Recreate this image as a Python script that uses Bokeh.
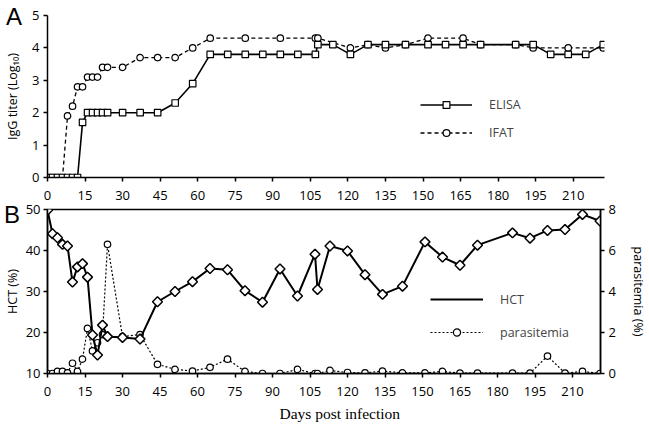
import numpy as np
from bokeh.plotting import figure
from bokeh.models import Range1d, LinearAxis, FixedTicker, Legend, LegendItem, Title, Div
from bokeh.layouts import column
from bokeh.embed import file_html
from bokeh.resources import INLINE

# ---------------- data: panel A (IgG titer, log10) ----------------
elisa_days = [0, 2, 4, 6, 8, 10, 12, 14, 16, 18, 20, 22, 24, 30, 37, 44, 51, 58, 65, 72, 79, 86,
              93, 100, 107, 108, 114, 121, 128, 135, 143, 152, 159, 166, 173, 187, 194, 201, 208,
              215, 222]
elisa_titer = [0, 0, 0, 0, 0, 0, 0, 1.7, 2.0, 2.0, 2.0, 2.0, 2.0, 2.0, 2.0, 2.0, 2.3, 2.9, 3.8, 3.8,
               3.8, 3.8, 3.8, 3.8, 3.8, 4.1, 4.1, 3.8, 4.1, 4.1, 4.1, 4.1, 4.1, 4.1, 4.1, 4.1, 4.1,
               3.8, 3.8, 3.8, 4.1]
ifat_days = [0, 2, 4, 6, 8, 10, 12, 14, 16, 18, 20, 22, 24, 30, 37, 44, 51, 58, 65, 79, 93, 107,
             108, 121, 128, 135, 143, 152, 166, 173, 187, 194, 208, 222]
ifat_titer = [0, 0, 0, 0, 1.9, 2.2, 2.8, 2.8, 3.1, 3.1, 3.1, 3.4, 3.4, 3.4, 3.7, 3.7, 3.7, 4.0, 4.3,
              4.3, 4.3, 4.3, 4.3, 4.0, 4.1, 4.0, 4.1, 4.3, 4.3, 4.1, 4.1, 4.0, 4.0, 4.0]

# ---------------- data: panel B (HCT %, parasitemia %) ----------------
hct_days = [0, 2, 4, 6, 8, 10, 12, 14, 16, 18, 20, 22, 24, 30, 37, 44, 51, 58, 65, 72, 79, 86, 93,
            100, 107, 108, 113, 120, 127, 134, 142, 151, 158, 165, 172, 186, 193, 200, 207, 214, 221]
hct_values = [49.8, 44.1, 43.1, 41.5, 41.1, 32.3, 36.0, 36.8, 33.5, 19.4, 14.5, 21.8, 19.0, 18.8,
              18.4, 27.5, 30.0, 32.4, 35.6, 35.3, 30.2, 27.4, 35.5, 28.9, 39.1, 30.5, 41.1, 39.9,
              34.1, 29.3, 31.3, 42.1, 38.4, 36.4, 41.3, 44.3, 43.0, 44.9, 45.1, 48.8, 47.2]
para_days = hct_days
para_values = [0.0, 0.0, 0.1, 0.1, 0.03, 0.5, 0.1, 0.7, 2.2, 1.1, 1.5, 1.9, 6.3, 1.8, 1.9, 0.45,
               0.2, 0.12, 0.3, 0.7, 0.1, 0.0, 0.0, 0.2, 0.0, 0.0, 0.15, 0.05, 0.03, 0.12, 0.03,
               0.03, 0.1, 0.02, 0.02, 0.02, 0.02, 0.85, 0.02, 0.1, 0.0]

x_ticks = list(range(0, 211, 15))
titer_ticks = [0, 1, 2, 3, 4, 5]
hct_ticks = [10, 20, 30, 40, 50]
para_ticks = [0, 2, 4, 6, 8]

SANS = "Open Sans"
TICK_SIZE = "13px"
LABEL_SIZE = "12.5px"


def style_axis(ax, ticks, label_standoff=4, axis_label_standoff=6):
    ax.ticker = FixedTicker(ticks=ticks)
    ax.axis_line_color = "black"
    ax.axis_line_width = 1.5
    ax.major_tick_line_color = "black"
    ax.major_tick_line_width = 1.5
    ax.major_tick_out = 4
    ax.major_tick_in = 0
    ax.minor_tick_line_color = None
    ax.major_label_text_font = SANS
    ax.major_label_text_font_size = TICK_SIZE
    ax.major_label_text_color = "black"
    ax.major_label_standoff = label_standoff
    ax.axis_label_text_font = SANS
    ax.axis_label_text_font_size = LABEL_SIZE
    ax.axis_label_text_font_style = "normal"
    ax.axis_label_text_color = "black"
    ax.axis_label_standoff = axis_label_standoff


def panel_letter(letter, size, margin):
    return Div(text=letter, margin=margin,
               styles={"font-family": "Liberation Sans", "font-size": f"{size}px",
                       "line-height": f"{size}px", "color": "black", "position": "relative",
                       "z-index": "5"})


# ---------------- panel A ----------------
p1 = figure(frame_width=557, frame_height=162, x_range=Range1d(0, 222.5), y_range=Range1d(0, 5),
            output_backend="svg", toolbar_location=None, border_fill_alpha=0,
            min_border_left=41, min_border_right=35, min_border_top=15, min_border_bottom=31)
p1.outline_line_color = None
p1.grid.visible = False
style_axis(p1.xaxis[0], x_ticks, label_standoff=9)
style_axis(p1.yaxis[0], titer_ticks, label_standoff=4, axis_label_standoff=8)
p1.yaxis[0].axis_label = "IgG titer (Log\u2081\u2080)"

l_ifat = p1.line(ifat_days, ifat_titer, line_color="black", line_width=1.3, line_dash="4 3")
s_ifat = p1.scatter(ifat_days, ifat_titer, marker="circle", size=6.5, fill_color="white",
                    line_color="black", line_width=1.2)
l_elisa = p1.line(elisa_days, elisa_titer, line_color="black", line_width=1.6)
s_elisa = p1.scatter(elisa_days, elisa_titer, marker="square", size=6.5, fill_color="white",
                     line_color="black", line_width=1.2)

leg1 = Legend(items=[LegendItem(label="ELISA", renderers=[l_elisa, s_elisa]),
                     LegendItem(label="IFAT", renderers=[l_ifat, s_ifat])],
              location=(373, 36.5), glyph_width=52, glyph_height=17, label_height=17,
              spacing=11, padding=0, margin=0, label_standoff=17,
              border_line_color=None, background_fill_alpha=0,
              label_text_font=SANS, label_text_font_size=LABEL_SIZE)
p1.add_layout(leg1)

# ---------------- panel B ----------------
p2 = figure(frame_width=553, frame_height=164, x_range=Range1d(0, 221.2), y_range=Range1d(10, 50),
            output_backend="svg", toolbar_location=None, border_fill_alpha=0,
            margin=(-8, 0, 0, 0),
            min_border_left=41, min_border_right=39, min_border_top=9, min_border_bottom=40)
p2.extra_y_ranges = {"para": Range1d(0, 8)}
p2.outline_line_color = "black"
p2.outline_line_width = 1.5
p2.grid.visible = False
style_axis(p2.xaxis[0], x_ticks, label_standoff=9)
style_axis(p2.yaxis[0], hct_ticks, label_standoff=3, axis_label_standoff=2)
p2.yaxis[0].axis_label = "HCT (%)"
right_axis = LinearAxis(y_range_name="para", axis_label="parasitemia (%)")
style_axis(right_axis, para_ticks, label_standoff=4, axis_label_standoff=11)
p2.add_layout(right_axis, "right")

l_para = p2.line(para_days, para_values, y_range_name="para", line_color="black",
                 line_width=1.2, line_dash="2 2")
s_para = p2.scatter(para_days, para_values, y_range_name="para", marker="circle", size=6.5,
                    fill_color="white", line_color="black", line_width=1.2)
l_hct = p2.line(hct_days, hct_values, line_color="black", line_width=2)
s_hct = p2.scatter(hct_days, hct_values, marker="square", angle=np.pi / 4, size=7,
                   fill_color="white", line_color="black", line_width=1.5)
# legend swatch for the diamond marker (legend swatches ignore marker rotation)
s_hct_key = p2.scatter([], [], marker="diamond", fill_color="white", line_color="black",
                       line_width=1.5)

leg2 = Legend(items=[LegendItem(label="HCT", renderers=[l_hct, s_hct_key]),
                     LegendItem(label="parasitemia", renderers=[l_para, s_para])],
              location=(383, 31.6), glyph_width=53, glyph_height=18, label_height=18,
              spacing=15, padding=0, margin=0, label_standoff=17,
              border_line_color=None, background_fill_alpha=0,
              label_text_font=SANS, label_text_font_size=LABEL_SIZE)
p2.add_layout(leg2)
p2.add_layout(Title(text="Days post infection", align="left", offset=232,
                    text_font="Liberation Serif", text_font_size="15.5px",
                    text_font_style="normal", text_color="black", standoff=8), "below")

layout = column(panel_letter("A", 24, (5, 0, -29, 6)), p1,
                panel_letter("B", 24, (-5, 0, -19, 4)), p2)
open("out.html", "w").write(file_html(layout, INLINE))
